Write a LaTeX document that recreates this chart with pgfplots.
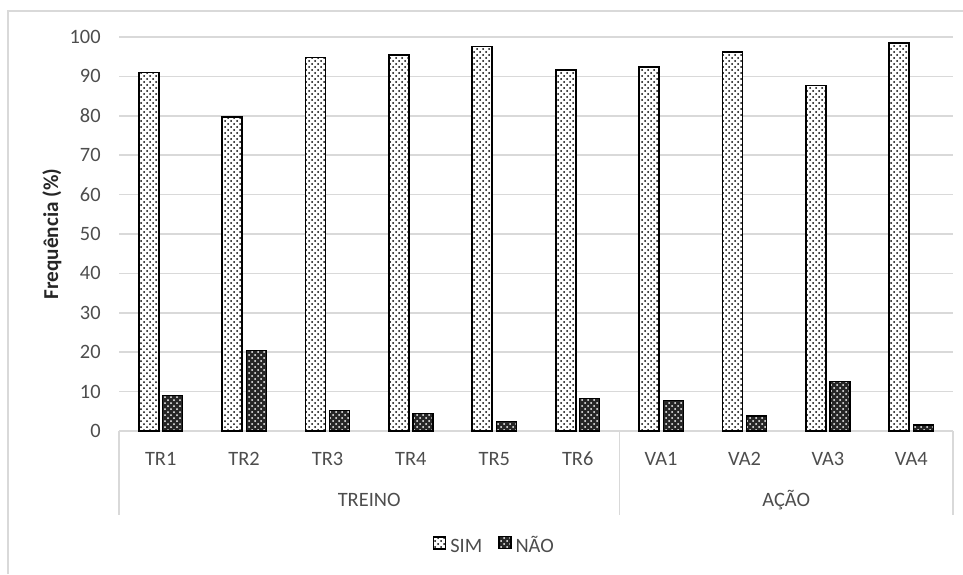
\documentclass[border=0pt]{standalone}
\usepackage{fontspec}
\setmainfont{Carlito}
\usepackage{pgfplots}
\pgfplotsset{compat=1.18}
\usetikzlibrary{patterns}
\definecolor{gridgray}{HTML}{D9D9D9}
\definecolor{txtgray}{HTML}{4D4D4D}

\pgfplotstableread{
x  sim   nao
0  91.0  9.0
1  79.6  20.4
2  94.8  5.2
3  95.5  4.5
4  97.6  2.4
5  91.7  8.3
6  92.3  7.7
7  96.2  3.8
8  87.7  12.6
9  98.5  1.5
}\freq

\begin{document}
\begin{tikzpicture}
% page area and chart frame
\path[use as bounding box] (0pt,0pt) rectangle (481.5pt,287pt);
\draw[gridgray, line width=1pt] (4pt,0pt) -- (4pt,281.5pt) -- (481.5pt,281.5pt);
\begin{axis}[
  at={(59.5pt,71.5pt)}, anchor=south west,
  scale only axis, width=417pt, height=197pt,
  clip=false,
  ymin=0, ymax=100, ytick={0,10,...,100},
  xmin=-0.5, xmax=9.5, xtick={0,...,9},
  xticklabels={TR1,TR2,TR3,TR4,TR5,TR6,VA1,VA2,VA3,VA4},
  axis line style={draw=none},
  major tick length=0pt,
  ymajorgrids, grid style={gridgray, line width=0.75pt},
  ybar=2pt, bar width=10pt,
  /pgf/number format/assume math mode=true,
  tick label style={font=\fontsize{10.2}{12}\selectfont, text=txtgray},
  yticklabel style={anchor=east, inner sep=0pt, xshift=-9pt},
  xticklabel style={anchor=center, yshift=-14pt},
  ylabel={\textbf{Frequência (\%)}},
  ylabel style={at={(axis description cs:-0.0803,0.5)}, anchor=center,
    font=\fontsize{10.6}{12}\selectfont, text=black!85},
  legend style={at={(0.451,-0.294)}, anchor=center, legend columns=2,
    draw=none, font=\fontsize{10.2}{12}\selectfont, text=txtgray,
    nodes={text height=7pt, text depth=1pt},
    /tikz/every even column/.append style={column sep=6pt},
    inner sep=0pt},
  legend image code/.code={\draw[#1] (0pt,-1pt) rectangle (6pt,5pt);},
]
\addplot[draw=black, line width=0.9pt, fill=white,
  postaction={pattern=crosshatch dots, pattern color=black}]
  table[x=x, y=sim] {\freq};
\addplot[draw=black, line width=0.6pt, fill=black!85,
  postaction={pattern=crosshatch dots, pattern color=white}]
  table[x=x, y=nao] {\freq};
\legend{SIM, NÃO}

% group separators and group names
\draw[gridgray, line width=0.75pt] (axis cs:-0.5,0) -- ++(0pt,-42pt);
\draw[gridgray, line width=0.75pt] (axis cs:5.5,0) -- ++(0pt,-42pt);
\draw[gridgray, line width=0.75pt] (axis cs:9.5,0) -- ++(0pt,-42pt);
\node[font=\fontsize{10.2}{12}\selectfont, text=txtgray] at (axis cs:2.5,0) [yshift=-34.5pt] {TREINO};
\node[font=\fontsize{10.2}{12}\selectfont, text=txtgray] at (axis cs:7.5,0) [yshift=-34.5pt] {AÇÃO};
\end{axis}
\end{tikzpicture}
\end{document}
